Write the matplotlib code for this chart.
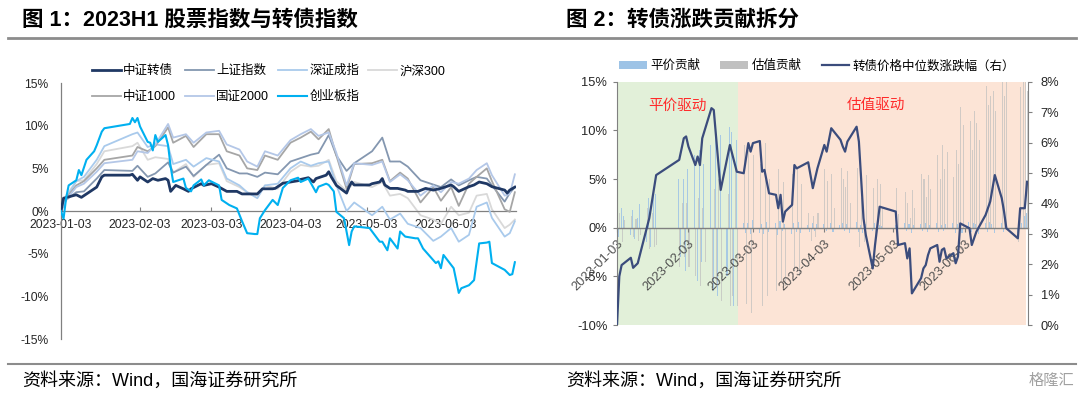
import matplotlib
matplotlib.use('Agg')
import matplotlib.pyplot as plt
import matplotlib.dates as mdates
from matplotlib.lines import Line2D
from matplotlib.patches import Patch
import pandas as pd

plt.rcParams['font.family'] = ['Liberation Sans', 'Noto Sans CJK SC', 'DejaVu Sans']
plt.rcParams['axes.unicode_minus'] = False

# ---------------- Figure 1 data: index returns since 2023-01-03 (%) ----------------
idx_dates = ['2023-01-03', '2023-01-05', '2023-01-09', '2023-01-12', '2023-01-17',
             '2023-01-20', '2023-01-31', '2023-02-02', '2023-02-06', '2023-02-09',
             '2023-02-14', '2023-02-16', '2023-02-21', '2023-02-24', '2023-03-01',
             '2023-03-06', '2023-03-09', '2023-03-14', '2023-03-17', '2023-03-21',
             '2023-03-24', '2023-03-29', '2023-04-03', '2023-04-07', '2023-04-11',
             '2023-04-14', '2023-04-18', '2023-04-21', '2023-04-25', '2023-04-28',
             '2023-05-05', '2023-05-09', '2023-05-12', '2023-05-16', '2023-05-19',
             '2023-05-24', '2023-05-29', '2023-06-01', '2023-06-05', '2023-06-08',
             '2023-06-12', '2023-06-15', '2023-06-19', '2023-06-21', '2023-06-26',
             '2023-06-28', '2023-06-30']

sh_idx = [0, 1.3, 2.2, 2.3, 3.8, 4.8, 4.7, 5.3, 4.0, 4.4,
          5.7, 4.5, 5.2, 4.1, 5.4, 6.6, 5.0, 4.4, 4.4, 4.0,
          4.5, 4.3, 5.8, 6.2, 6.6, 6.8, 8.9, 6.5, 4.7, 5.6,
          7.0, 8.6, 5.8, 5.8, 5.2, 3.6, 3.1, 2.8, 3.7, 3.0,
          3.6, 4.0, 3.8, 3.0, 1.1, 2.1, 2.8]
sz_idx = [0, 1.5, 3.5, 4.0, 6.0, 7.6, 9.0, 9.2, 7.5, 7.8,
          7.6, 5.5, 6.0, 5.2, 6.2, 5.8, 3.8, 3.0, 2.2, 1.5,
          3.0, 3.2, 5.0, 5.8, 5.3, 5.6, 5.8, 3.0, 0.0, 1.0,
          -0.5, 0.5, -1.0, -0.3, -1.5, -2.0, -3.5, -3.0, -2.0, -3.6,
          -2.8, 0.5, 1.0, -0.8, -3.0, -2.6, -1.2]
hs300 = [0, 1.8, 3.5, 3.6, 5.5, 7.0, 7.6, 8.0, 6.0, 6.3,
         6.1, 4.5, 5.5, 4.0, 5.4, 5.6, 3.5, 2.8, 2.2, 1.8,
         3.0, 2.6, 4.6, 5.4, 5.2, 5.3, 6.0, 3.5, 2.3, 3.4,
         2.8, 3.4, 1.8, 2.0, 1.5, -0.5, -1.0, -1.5, 0.5, -0.5,
         -0.2, 1.8, 2.0, 0.2, -2.0, -1.6, -1.0]
zz1000 = [0, 1.5, 3.0, 3.5, 5.0, 6.0, 6.5, 7.5, 7.0, 7.6,
          9.8, 8.0, 8.8, 7.5, 9.0, 9.0, 7.0, 6.5, 5.0, 4.8,
          6.5, 6.0, 8.0, 8.6, 9.3, 8.4, 9.6, 6.5, 2.6, 5.5,
          5.6, 6.0, 3.5, 4.5, 3.8, 1.0, 2.8, 1.2, 2.8, 0.6,
          3.2, 4.0, 5.0, 3.5, 0.2, -0.1, 2.2]
gz2000 = [0, 1.3, 2.8, 3.2, 4.6, 5.6, 6.0, 7.0, 6.8, 7.8,
          10.2, 8.6, 9.0, 8.0, 9.2, 9.4, 7.8, 7.2, 5.8, 5.2,
          7.0, 6.5, 8.3, 9.0, 9.6, 8.8, 9.2, 6.8, 3.0, 5.6,
          5.4, 5.8, 3.4, 4.3, 3.6, 1.8, 3.0, 2.2, 3.4, 3.2,
          3.8, 4.8, 5.6, 4.2, 1.8, 2.0, 4.3]

# 中证转债 (own, denser sampling)
cb_idx_dates = ['2023-01-03', '2023-01-04', '2023-01-09', '2023-01-11', '2023-01-13',
                '2023-01-17', '2023-01-18', '2023-01-19', '2023-01-20', '2023-01-30',
                '2023-01-31', '2023-02-02', '2023-02-03', '2023-02-06', '2023-02-08',
                '2023-02-10', '2023-02-13', '2023-02-14', '2023-02-15', '2023-02-17',
                '2023-02-20', '2023-02-22', '2023-02-23', '2023-02-27', '2023-02-28',
                '2023-03-03', '2023-03-06', '2023-03-09', '2023-03-13', '2023-03-15',
                '2023-03-17', '2023-03-21', '2023-03-23', '2023-03-27', '2023-03-28',
                '2023-03-31', '2023-04-03', '2023-04-06', '2023-04-07', '2023-04-10',
                '2023-04-12', '2023-04-13', '2023-04-17', '2023-04-18', '2023-04-19',
                '2023-04-21', '2023-04-25', '2023-04-26', '2023-04-27', '2023-04-28',
                '2023-05-04', '2023-05-05', '2023-05-08', '2023-05-09', '2023-05-10',
                '2023-05-12', '2023-05-15', '2023-05-18', '2023-05-19', '2023-05-23',
                '2023-05-26', '2023-05-29', '2023-06-01', '2023-06-05', '2023-06-06',
                '2023-06-08', '2023-06-12', '2023-06-14', '2023-06-16', '2023-06-19',
                '2023-06-21', '2023-06-26', '2023-06-27', '2023-06-28', '2023-06-30']
zz_cb = [0, 1.5, 1.9, 1.6, 2.0, 2.8, 3.4, 4.0, 4.2, 4.2,
         4.3, 3.6, 4.0, 3.4, 3.8, 3.6, 3.8, 3.6, 2.3, 3.0,
         2.6, 2.3, 2.6, 3.2, 3.0, 3.2, 2.8, 2.3, 2.3, 2.0,
         2.0, 2.0, 2.6, 2.6, 2.65, 3.25, 3.4, 3.55, 3.7, 3.9,
         3.4, 3.8, 4.2, 4.6, 4.0, 3.0, 2.1, 2.85, 3.4, 3.05,
         3.05, 3.2, 3.4, 3.8, 3.05, 2.65, 2.65, 2.45, 2.3, 2.3,
         2.65, 2.45, 2.65, 3.05, 2.85, 2.3, 2.85, 3.05, 3.4, 3.2,
         2.85, 2.45, 2.1, 2.45, 2.8]

# 创业板指 (own, denser sampling)
cyb_dates = ['2023-01-03', '2023-01-04', '2023-01-05', '2023-01-06', '2023-01-09',
             '2023-01-10', '2023-01-11', '2023-01-13', '2023-01-16', '2023-01-17',
             '2023-01-19', '2023-01-20', '2023-01-30', '2023-01-31', '2023-02-01',
             '2023-02-02', '2023-02-03', '2023-02-06', '2023-02-07', '2023-02-08',
             '2023-02-09', '2023-02-10', '2023-02-13', '2023-02-14', '2023-02-15',
             '2023-02-16', '2023-02-20', '2023-02-21', '2023-02-23', '2023-02-24',
             '2023-02-27', '2023-02-28', '2023-03-02', '2023-03-06', '2023-03-07',
             '2023-03-10', '2023-03-13', '2023-03-15', '2023-03-17', '2023-03-20',
             '2023-03-21', '2023-03-22', '2023-03-24', '2023-03-27', '2023-03-29',
             '2023-03-31', '2023-04-03', '2023-04-06', '2023-04-07', '2023-04-10',
             '2023-04-13', '2023-04-14', '2023-04-17', '2023-04-18', '2023-04-20',
             '2023-04-21', '2023-04-24', '2023-04-26', '2023-04-27', '2023-04-28',
             '2023-05-04', '2023-05-08', '2023-05-09', '2023-05-11', '2023-05-12',
             '2023-05-15', '2023-05-16', '2023-05-18', '2023-05-22', '2023-05-23',
             '2023-05-25', '2023-05-30', '2023-05-31', '2023-06-01', '2023-06-02',
             '2023-06-06', '2023-06-08', '2023-06-09', '2023-06-12', '2023-06-14',
             '2023-06-16', '2023-06-19', '2023-06-20', '2023-06-21', '2023-06-26',
             '2023-06-28', '2023-06-29', '2023-06-30']
cyb_idx = [0.0, -0.9, 1.5, 3.0, 3.6, 4.8, 4.2, 6.0, 7.0, 7.7,
           9.3, 9.7, 10.2, 10.9, 10.4, 10.9, 9.9, 8.1, 8.0, 7.1,
           8.9, 8.1, 8.9, 7.7, 5.2, 3.4, 3.8, 2.7, 2.3, 3.0,
           3.7, 3.0, 3.6, 3.0, 1.3, 0.7, 0.3, -1.2, -2.6, -2.7,
           -2.7, -0.85, 0.1, 1.3, 0.7, 2.7, 3.6, 3.9, 3.4, 3.8,
           2.2, 2.85, 3.2, 3.05, 2.3, -0.1, -0.85, -4.0, -2.4, -1.8,
           -2.0, -3.6, -3.6, -4.6, -3.2, -4.4, -2.4, -3.0, -3.2, -3.2,
           -4.4, -6.1, -5.9, -6.7, -5.15, -6.7, -9.6, -9.05, -8.7, -8.1,
           -3.8, -3.7, -3.6, -6.1, -6.9, -7.5, -7.4, -6.0]

series_names = ['中证转债', '上证指数', '深证成指', '沪深300', '中证1000', '国证2000', '创业板指']
left_ticks = ['2023-01-03', '2023-02-03', '2023-03-03', '2023-04-03', '2023-05-03', '2023-06-03']

# ---------------- Figure 2 data ----------------
cb_dates = ['2023-01-03', '2023-01-04', '2023-01-05', '2023-01-09', '2023-01-10',
            '2023-01-12', '2023-01-17', '2023-01-20', '2023-01-30', '2023-02-01',
            '2023-02-02', '2023-02-03', '2023-02-06', '2023-02-07', '2023-02-08',
            '2023-02-09', '2023-02-13', '2023-02-14', '2023-02-17', '2023-02-21',
            '2023-02-24', '2023-02-27', '2023-03-01', '2023-03-02', '2023-03-03',
            '2023-03-06', '2023-03-07', '2023-03-08', '2023-03-10', '2023-03-13',
            '2023-03-14', '2023-03-15', '2023-03-16', '2023-03-17', '2023-03-20',
            '2023-03-21', '2023-03-22', '2023-03-27', '2023-03-29', '2023-03-31',
            '2023-04-03', '2023-04-04', '2023-04-06', '2023-04-10', '2023-04-11',
            '2023-04-12', '2023-04-13', '2023-04-17', '2023-04-18', '2023-04-20',
            '2023-04-21', '2023-04-24', '2023-04-25', '2023-04-27', '2023-05-04',
            '2023-05-05', '2023-05-08', '2023-05-09', '2023-05-10', '2023-05-11',
            '2023-05-15', '2023-05-16', '2023-05-17', '2023-05-18', '2023-05-19',
            '2023-05-22', '2023-05-23', '2023-05-24', '2023-05-25', '2023-05-26',
            '2023-05-29', '2023-05-30', '2023-05-31', '2023-06-01', '2023-06-05',
            '2023-06-06', '2023-06-08', '2023-06-12', '2023-06-14', '2023-06-16',
            '2023-06-19', '2023-06-20', '2023-06-21', '2023-06-26', '2023-06-27',
            '2023-06-29', '2023-06-30']
cb_median = [0.0, 1.6, 1.97, 2.21, 1.88, 2.03, 3.51, 4.93, 5.43, 6.14,
             6.20, 5.87, 5.26, 5.54, 5.26, 6.14, 7.13, 7.07, 4.44, 5.92,
             5.04, 4.99, 5.98, 5.70, 5.98, 6.05, 5.04, 5.10, 4.33, 4.28,
             3.84, 4.28, 3.40, 3.73, 3.95, 5.26, 5.15, 5.35, 4.50, 5.15,
             5.92, 5.70, 6.47, 6.09, 5.87, 5.70, 6.03, 6.52, 6.03, 3.51,
             2.96, 1.86, 2.63, 3.89, 3.73, 2.63, 2.69, 2.19, 2.52, 1.04,
             1.54, 1.86, 1.97, 2.30, 2.52, 2.63, 2.08, 2.47, 2.52, 2.19,
             2.36, 2.03, 2.25, 3.34, 3.18, 2.63, 3.07, 3.62, 4.06, 4.93,
             4.17, 3.73, 3.18, 2.85, 3.84, 3.84, 4.71]

holidays = ['2023-01-02', '2023-01-23', '2023-01-24', '2023-01-25', '2023-01-26',
            '2023-01-27', '2023-04-05', '2023-05-01', '2023-05-02', '2023-05-03',
            '2023-06-22', '2023-06-23']

parity_jan = [1.5, -1.0, 2.0, 1.2, -0.8, 1.8, -1.2, 1.0, 2.4, -1.5, 3.0, -2.0, 4.0, 3.5, 5.0, -3.0]
parity_feb = [5.0, -4.5, 6.0, 7.5, -5.5, 8.0, -3.5, 6.5, 8.5, -6.5,
              10.0, -7.0, 9.5, -5.0, 10.3, 9.8, -8.0, 9.0, 0.5, -0.5]
parity_mar = [0.5, -0.6, 0.8, -0.5, 0.4, -0.7, 0.6, -0.4, 0.5, -0.8,
              0.7, -0.3, 0.4, -0.6, 0.5, -0.4, 0.6, -0.5, 0.3, -0.4, 0.5, -0.3, 0.4]
parity_apr = [0.4, -0.3, 0.5, -0.4, 0.3, 0.5, -0.3, 0.4, -0.5, 0.6,
              -0.4, 0.3, -0.5, 0.4, -0.3, 0.5, -0.4, 0.3, 0.2]
parity_may = [0.3, -0.4, 0.5, -0.3, 0.4, -0.5, 0.3, 0.4, -0.3, 0.5,
              -0.4, 0.3, 0.5, -0.4, 0.3, -0.3, 0.4, 0.5, -0.5, 0.4]
parity_jun = [0.5, -0.5, 0.6, -0.4, 0.5, 0.4, -0.6, 0.5, -0.4, 0.6,
              0.4, -0.5, 0.5, -0.4, 0.6, -0.5, 0.4, 0.5, 1.2, 1.5]

val_jan = [-1.0, 1.5, -1.5, 0.8, 1.2, -1.0, 0.9, -1.4, -0.8, 2.0, -2.2, 1.5, -2.0, -1.8, -4.0, 2.5]
val_feb = [-3.0, 2.5, -4.0, -5.0, 3.0, -6.0, 2.0, -3.5, -5.5, 4.0,
           -6.0, 5.0, -7.5, 3.5, -8.0, -7.0, 6.0, -8.0, 8.5, -7.8]
val_mar = [8.0, -8.8, 7.5, 6.5, -8.0, 8.7, -7.0, 5.0, -6.5, 6.0,
           -5.5, 4.7, -6.0, 5.5, -4.5, 6.0, -5.0, 4.5, 1.5, -1.4, 1.2, -1.0, 1.5]
val_apr = [6.0, 4.8, 5.5, 2.0, 6.1, 5.0, 4.2, 5.8, 2.5, 6.1,
           -2.0, 3.0, -1.5, 5.4, 4.1, -1.0, 5.0, 4.5, 2.0]
val_may = [4.1, 1.4, 3.7, 2.5, 1.0, 3.9, 2.0, 5.5, 5.0, 3.2,
           5.4, 4.0, 7.5, 5.0, 8.5, 6.0, 7.8, 5.2, 8.0, 6.5]
val_jun = [12.4, 10.5, 11.0, 8.0, 12.0, 10.8, 9.0, 14.6, 12.6, 13.5,
           14.0, 12.0, 15.0, 13.5, 15.5, -1.5, 14.5, 16.0, 15.0, 14.0]

regime_split = '2023-02-24 12:00'

# ---------------- Layout helpers ----------------
W, H = 1080, 396
def fx(px):
    return px / W
def fy(py):
    return 1 - py / H

fig = plt.figure(figsize=(W / 100, H / 100), dpi=100)
fig.patch.set_facecolor('white')

GREY = '#808080'

# ================= Left chart =================
axL = fig.add_axes([fx(61), fy(339), fx(515.5) - fx(61), fy(83) - fy(339)])
d_idx = pd.to_datetime(idx_dates)
series_x = [pd.to_datetime(cb_idx_dates), d_idx, d_idx, d_idx, d_idx, d_idx, pd.to_datetime(cyb_dates)]
all_series = [zz_cb, sh_idx, sz_idx, hs300, zz1000, gz2000, cyb_idx]
colors = ['#1F3864', '#8497B0', '#A9CAEC', '#D9D9D9', '#A6A6A6', '#B4C7E7', '#00B0F0']
widths = [2.0, 1.3, 1.3, 1.3, 1.3, 1.3, 1.5]
zorders = [5, 3, 3, 2, 3, 3, 6]
handlesL = []
for name, xs, vals, c, w, z in zip(series_names, series_x, all_series, colors, widths, zorders):
    h, = axL.plot(xs, vals, color=c, lw=w, zorder=z, label=name, solid_joinstyle='round')
    handlesL.append(h)

t0 = pd.Timestamp('2023-01-03')
t1 = pd.Timestamp('2023-06-30')
axL.set_xlim(t0, t1 + pd.Timedelta(hours=6))
axL.set_ylim(-15, 15)
for s in ['top', 'right']:
    axL.spines[s].set_visible(False)
axL.spines['left'].set_color(GREY)
axL.spines['left'].set_linewidth(0.9)
axL.spines['bottom'].set_position(('data', 0))
axL.spines['bottom'].set_color(GREY)
axL.spines['bottom'].set_linewidth(0.9)
axL.tick_params(axis='x', direction='in', length=3, color=GREY, labelsize=8.7, pad=6, labelcolor='#262626')
axL.tick_params(axis='y', length=0, labelsize=8.7, pad=9, labelcolor='#262626')
axL.set_yticks([-15, -10, -5, 0, 5, 10, 15])
axL.set_yticklabels([f'{v}%' for v in [-15, -10, -5, 0, 5, 10, 15]])
axL.set_xticks(pd.to_datetime(left_ticks))
axL.set_xticklabels(left_ticks)
axL.patch.set_alpha(0)

order = [0, 4, 1, 5, 2, 6, 3]
fig.legend([handlesL[i] for i in order], [series_names[i] for i in order],
           loc='upper left', bbox_to_anchor=(fx(92), fy(65)), ncol=4, frameon=False,
           fontsize=9, handlelength=2.3, handletextpad=0.2, columnspacing=0.7,
           labelspacing=1.1, borderpad=0, borderaxespad=0)

# ================= Right chart =================
axR = fig.add_axes([fx(617), fy(325), fx(1028) - fx(617), fy(81.7) - fy(325)])
r0 = pd.Timestamp('2023-01-03')
r1 = pd.Timestamp('2023-06-30')
split = pd.Timestamp(regime_split)
axR.axvspan(r0 - pd.Timedelta(days=1), split, color='#E2F0D9', zorder=0, lw=0)
axR.axvspan(split, r1 - pd.Timedelta(hours=8), color='#FCE4D6', zorder=0, lw=0)

tdays = pd.bdate_range('2023-01-03', '2023-06-30', freq='C', holidays=holidays)
parity = parity_jan + parity_feb + parity_mar + parity_apr + parity_may + parity_jun
valuation = val_jan + val_feb + val_mar + val_apr + val_may + val_jun
n = min(len(tdays), len(parity), len(valuation))
tnum = mdates.date2num(tdays[:n])
axR.bar(tnum - 0.25, parity[:n], width=0.45, color='#9DC3E6', alpha=0.85, zorder=1, lw=0)
axR.bar(tnum + 0.25, valuation[:n], width=0.45, color='#BFBFBF', alpha=0.7, zorder=1, lw=0)

axR.set_xlim(mdates.date2num(r0), mdates.date2num(r1) + 0.4)
axR.set_ylim(-10, 15)
for s in ['top', 'right']:
    axR.spines[s].set_visible(False)
axR.spines['left'].set_color(GREY)
axR.spines['bottom'].set_position(('data', 0))
axR.spines['bottom'].set_color(GREY)
axR.spines['bottom'].set_linewidth(1.0)
axR.spines['bottom'].set_zorder(2)
axR.tick_params(axis='x', direction='out', length=3, color=GREY, labelsize=9.3, pad=4,
                labelcolor='#505050', labelrotation=45)
axR.tick_params(axis='y', direction='out', length=3, color=GREY, labelsize=9.3, pad=4, labelcolor='#262626')
axR.set_yticks([-10, -5, 0, 5, 10, 15])
axR.set_yticklabels([f'{v}%' for v in [-10, -5, 0, 5, 10, 15]])
right_ticks = ['2023-01-03', '2023-02-03', '2023-03-03', '2023-04-03', '2023-05-03', '2023-06-03']
axR.set_xticks(mdates.date2num(pd.to_datetime(right_ticks)))
axR.set_xticklabels(right_ticks)

axR2 = axR.twinx()
line_c = '#3B4C7C'
axR2.plot(pd.to_datetime(cb_dates), cb_median, color=line_c, lw=1.6, zorder=5, solid_joinstyle='round')
axR2.set_ylim(0, 8)
for s in ['top', 'left', 'bottom']:
    axR2.spines[s].set_visible(False)
axR2.spines['right'].set_color(GREY)
axR2.tick_params(axis='y', direction='out', length=3, color=GREY, labelsize=9.3, pad=6, labelcolor='#262626')
axR2.set_yticks(range(0, 9))
axR2.set_yticklabels([f'{v}%' for v in range(0, 9)])

for lbl in axR.get_xticklabels():
    lbl.set_rotation(45)
    lbl.set_ha('right')
    lbl.set_va('top')
    lbl.set_rotation_mode('anchor')

axR2.text(0.146, 0.90, '平价驱动', transform=axR2.transAxes, color='#FF2A2A', fontsize=10.5,
          ha='center', va='center')
axR2.text(0.63, 0.905, '估值驱动', transform=axR2.transAxes, color='#FF2A2A', fontsize=10.5,
          ha='center', va='center')

handlesR = [Patch(facecolor='#9DC3E6', edgecolor='none'),
            Patch(facecolor='#C0C0C0', edgecolor='none'),
            Line2D([], [], color=line_c, lw=1.6)]
labelsR = ['平价贡献', '估值贡献', '转债价格中位数涨跌幅（右）']
fig.legend(handlesR, labelsR, loc='center left', bbox_to_anchor=(fx(619), fy(66)), ncol=3,
           frameon=False, fontsize=9, handlelength=2.2, handleheight=0.55, handletextpad=0.3,
           columnspacing=1.6, borderpad=0, borderaxespad=0)

# ================= Titles, rules, footers =================
fig.text(fx(22), fy(20), '图 1：2023H1 股票指数与转债指数', fontsize=15.5, fontweight='bold',
         ha='left', va='center', color='black')
fig.text(fx(566), fy(20), '图 2：转债涨跌贡献拆分', fontsize=15.5, fontweight='bold',
         ha='left', va='center', color='black')
fig.add_artist(Line2D([fx(8), fx(1076)], [fy(38), fy(38)], transform=fig.transFigure,
                      color='#8C8C8C', lw=2.0))
fig.add_artist(Line2D([fx(8), fx(1076)], [fy(364), fy(364)], transform=fig.transFigure,
                      color='#8C8C8C', lw=1.5))
fig.text(fx(22), fy(381), '资料来源：Wind，国海证券研究所', fontsize=13, ha='left', va='center', color='black')
fig.text(fx(566), fy(381), '资料来源：Wind，国海证券研究所', fontsize=13, ha='left', va='center', color='black')
fig.text(fx(1074), fy(381), '格隆汇', fontsize=11, ha='right', va='center', color='#A0A0A0')

fig.savefig('out.png', dpi=100, facecolor='white')
